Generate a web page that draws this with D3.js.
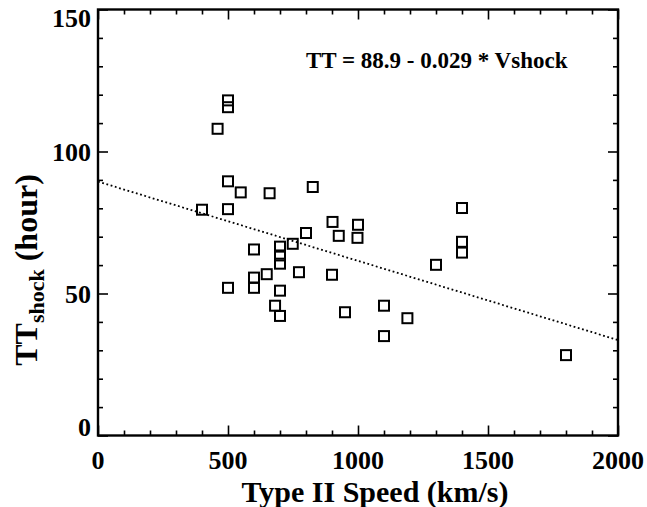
<!DOCTYPE html>
<html>
<head>
<meta charset="utf-8">
<script src="https://cdn.jsdelivr.net/npm/d3@7"></script>
<style>
  body { margin: 0; background: #fff; }
  text { font-family: 'Liberation Serif', 'Times New Roman', serif; font-weight: bold; fill: #000; }
</style>
</head>
<body>
<script>
// Type II speed (km/s) vs shock transit time (hour)
const speed = [400, 460, 500, 500, 500, 500, 500, 549, 600, 600, 600, 649, 660, 681, 700, 700, 700, 700, 700,
  749, 773, 800, 826, 900, 902, 926, 950, 1000, 998, 1100, 1100, 1190, 1300, 1400, 1400, 1400, 1800]
const transit = [79.5, 108, 118, 115.6, 89.5, 79.7, 52, 85.6, 65.5, 55.6, 52, 56.8, 85.3, 45.7, 66.5, 63.4, 60.5, 51, 42.1,
  67.5, 57.5, 71.3, 87.5, 56.6, 75.2, 70.3, 43.4, 74.2, 69.6, 45.7, 35, 41.3, 60.1, 80.1, 68.2, 64.4, 28.3]

// fit line as drawn
const fitX = [0, 2000]
const fitY = [89.4, 33.6]

const xTicks = [0, 500, 1000, 1500, 2000]
const yTicks = [0, 50, 100, 150]

const W = 647, H = 507
const pl = 98, pr = 618, pt = 9.5, pb = 435.5

const svg = d3.select('body').append('svg').attr('width', W).attr('height', H)

const x = d3.scaleLinear().domain([0, 2000]).range([pl, pr])
const y = d3.scaleLinear().domain([0, 150]).range([pb, pt])

const xMinor = d3.range(0, 2001, 100).filter(v => !xTicks.includes(v))
const yMinor = d3.range(0, 151, 10).filter(v => !yTicks.includes(v))

// tick marks pointing inward on all four sides
function ticks(g, axis, vals, len) {
  g.call(axis.tickValues(vals).tickSize(len).tickFormat(''))
  g.select('.domain').remove()
  g.selectAll('line').attr('stroke', '#000').attr('stroke-width', 1.6)
}
svg.append('g').attr('transform', `translate(0,${pb})`).call(g => ticks(g, d3.axisTop(x), xMinor, 5))
svg.append('g').attr('transform', `translate(0,${pb})`).call(g => ticks(g, d3.axisTop(x), xTicks, 10))
svg.append('g').attr('transform', `translate(0,${pt})`).call(g => ticks(g, d3.axisBottom(x), xMinor, 5))
svg.append('g').attr('transform', `translate(0,${pt})`).call(g => ticks(g, d3.axisBottom(x), xTicks, 10))
svg.append('g').attr('transform', `translate(${pl},0)`).call(g => ticks(g, d3.axisRight(y), yMinor, 5))
svg.append('g').attr('transform', `translate(${pl},0)`).call(g => ticks(g, d3.axisRight(y), yTicks, 10))
svg.append('g').attr('transform', `translate(${pr},0)`).call(g => ticks(g, d3.axisLeft(y), yMinor, 5))
svg.append('g').attr('transform', `translate(${pr},0)`).call(g => ticks(g, d3.axisLeft(y), yTicks, 10))

// frame
svg.append('rect')
  .attr('x', pl).attr('y', pt)
  .attr('width', pr - pl).attr('height', pb - pt)
  .attr('fill', 'none').attr('stroke', '#000').attr('stroke-width', 2.4)

// tick labels
svg.append('g').selectAll('text').data(xTicks).join('text')
  .attr('x', d => x(d)).attr('y', 469)
  .attr('text-anchor', 'middle').attr('font-size', 26)
  .text(d => d)

svg.append('g').selectAll('text').data(yTicks).join('text')
  .attr('x', 91)
  .attr('y', (d, i) => i === 0 ? y(d) : i === yTicks.length - 1 ? y(d) + 17 : y(d) + 9)
  .attr('text-anchor', 'end').attr('font-size', 26)
  .text(d => d)

// axis titles
svg.append('text')
  .attr('x', 375).attr('y', 502)
  .attr('text-anchor', 'middle').attr('font-size', 30)
  .text('Type II Speed (km/s)')

const yt = svg.append('text')
  .attr('transform', 'translate(37,270) rotate(-90)')
  .attr('text-anchor', 'middle').attr('font-size', 32)
yt.append('tspan').text('TT')
yt.append('tspan').attr('font-size', 22).attr('dy', 7).text('shock')
yt.append('tspan').attr('dy', -7).text(' (hour)')

// fit line
svg.append('line')
  .attr('x1', x(fitX[0])).attr('y1', y(fitY[0]))
  .attr('x2', x(fitX[1])).attr('y2', y(fitY[1]))
  .attr('stroke', '#000').attr('stroke-width', 1.8)
  .attr('stroke-dasharray', '1.8 2.6')

// data squares
const s = 10
svg.append('g').selectAll('rect').data(speed).join('rect')
  .attr('x', d => x(d) - s / 2)
  .attr('y', (d, i) => y(transit[i]) - s / 2)
  .attr('width', s).attr('height', s)
  .attr('fill', 'none').attr('stroke', '#000').attr('stroke-width', 2)

svg.append('text')
  .attr('x', 306).attr('y', 68)
  .attr('font-size', 23)
  .text('TT = 88.9 - 0.029 * Vshock')
</script>
</body>
</html>
